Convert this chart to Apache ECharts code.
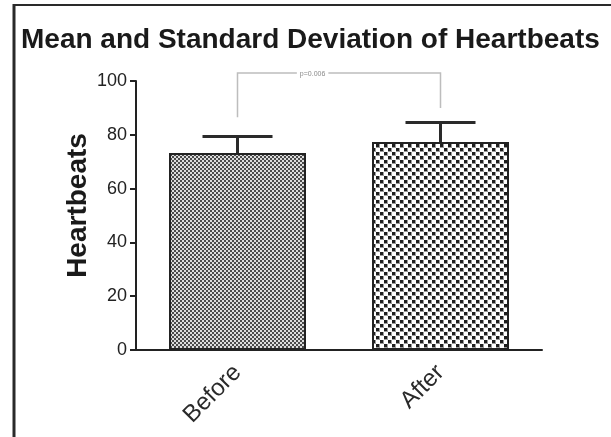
<!DOCTYPE html>
<html>
<head>
<meta charset="utf-8">
<script src="https://cdn.jsdelivr.net/npm/echarts@6/dist/echarts.min.js"></script>
<style>html,body{margin:0;padding:0;background:#fff;}#c{width:611px;height:437px;}</style>
</head>
<body>
<div id="c"></div>
<script>
// ---- data ----
var categories = ['Before', 'After'];
var means = [73.2, 77.3];
var sds = [6.2, 7.3];
var yTicks = [0, 20, 40, 60, 80, 100];
// significance bracket: [fromCategory, toCategory, leftLegBottom, rightLegBottom, top]
var bracket = [[0, 1, 86.5, 90, 103]];
var pLabel = 'p=0.006';

function makePattern(kind) {
  var c = document.createElement('canvas');
  var ctx = c.getContext('2d');
  if (kind === 'fine') {
    c.width = 4; c.height = 4;
    ctx.fillStyle = '#dcdcdc'; ctx.fillRect(0, 0, 4, 4);
    ctx.fillStyle = '#4a4a4a';
    ctx.fillRect(0, 0, 2, 2); ctx.fillRect(2, 2, 2, 2);
  } else {
    c.width = 8; c.height = 8;
    ctx.fillStyle = '#ffffff'; ctx.fillRect(0, 0, 8, 8);
    ctx.fillStyle = '#9a9a9a';
    ctx.fillRect(0, 0, 4, 4); ctx.fillRect(4, 4, 4, 4);
    ctx.fillStyle = '#1e1e1e';
    ctx.fillRect(0, 0, 3, 3); ctx.fillRect(4, 4, 3, 3);
  }
  return { image: c, repeat: 'repeat' };
}
var patterns = [makePattern('fine'), makePattern('coarse')];

var FONT = 'Liberation Sans, Arial, sans-serif';
var chart = echarts.init(document.getElementById('c'), null, { renderer: 'canvas' });
var option = {
  animation: false,
  backgroundColor: '#fff',
  title: {
    text: 'Mean and Standard Deviation of Heartbeats',
    left: 16, top: 21,
    textStyle: { fontFamily: FONT, fontWeight: 'bold', fontSize: 28, color: '#1a1a1a' }
  },
  graphic: [
    { type: 'line', shape: { x1: 14, y1: 4, x2: 14, y2: 437 }, style: { stroke: '#2a2a2a', lineWidth: 3 } },
    { type: 'line', shape: { x1: 13, y1: 5, x2: 611, y2: 5 }, style: { stroke: '#2a2a2a', lineWidth: 2 } }
  ],
  grid: { left: 136, right: 69, top: 81, bottom: 87, containLabel: false },
  xAxis: {
    type: 'category',
    data: categories,
    axisLine: { lineStyle: { color: '#222', width: 2 } },
    axisTick: { alignWithLabel: true, length: 8, lineStyle: { color: '#222', width: 2 } },
    axisLabel: { rotate: 45, fontSize: 24, color: '#2a2a2a', margin: 19, fontFamily: FONT }
  },
  yAxis: {
    type: 'value',
    min: yTicks[0], max: yTicks[yTicks.length - 1], interval: 20,
    name: 'Heartbeats',
    nameLocation: 'middle',
    nameGap: 44,
    nameMoveOverlap: false,
    nameTextStyle: { fontFamily: FONT, fontWeight: 'bold', fontSize: 28, color: '#1a1a1a', padding: [0, 0, 0, 20] },
    axisLine: { show: true, lineStyle: { color: '#222', width: 2 } },
    axisTick: { show: true, length: 6, lineStyle: { color: '#222', width: 2 } },
    axisLabel: { fontSize: 18, color: '#222', margin: 9, fontFamily: FONT },
    splitLine: { show: false }
  },
  series: [
    {
      type: 'bar',
      barWidth: 137,
      data: means.map(function (v, i) {
        return { value: v, itemStyle: { color: patterns[i], borderColor: '#222', borderWidth: 2 } };
      }),
      z: 2
    },
    {
      type: 'custom',
      z: 3,
      data: means.map(function (m, i) { return [i, m, m + sds[i]]; }),
      renderItem: function (params, api) {
        var x = api.value(0);
        var base = api.coord([x, api.value(1)]);
        var top = api.coord([x, api.value(2)]);
        var half = 35;
        var st = { stroke: '#2a2a2a', lineWidth: 3 };
        return {
          type: 'group',
          children: [
            { type: 'line', shape: { x1: base[0], y1: base[1], x2: top[0], y2: top[1] }, style: st },
            { type: 'line', shape: { x1: top[0] - half, y1: top[1], x2: top[0] + half, y2: top[1] }, style: st }
          ]
        };
      }
    },
    {
      type: 'custom',
      z: 1,
      clip: false,
      data: bracket,
      renderItem: function (params, api) {
        var a = api.coord([api.value(0), api.value(2)]);
        var b = api.coord([api.value(1), api.value(3)]);
        var t = api.coord([api.value(0), api.value(4)]);
        var st = { stroke: '#bdbdbd', lineWidth: 1.5, fill: null };
        var tx = a[0] + (b[0] - a[0]) * 0.37;
        return {
          type: 'group',
          children: [
            { type: 'polyline', shape: { points: [[a[0], a[1]], [a[0], t[1]], [b[0], t[1]], [b[0], b[1]]] }, style: st },
            { type: 'text', style: { text: pLabel, x: tx, y: t[1] + 1, align: 'center', verticalAlign: 'middle', fontSize: 7, fill: '#8a8a8a', backgroundColor: '#fff', padding: [1, 3] } }
          ]
        };
      }
    }
  ]
};
chart.setOption(option);
</script>
</body>
</html>
